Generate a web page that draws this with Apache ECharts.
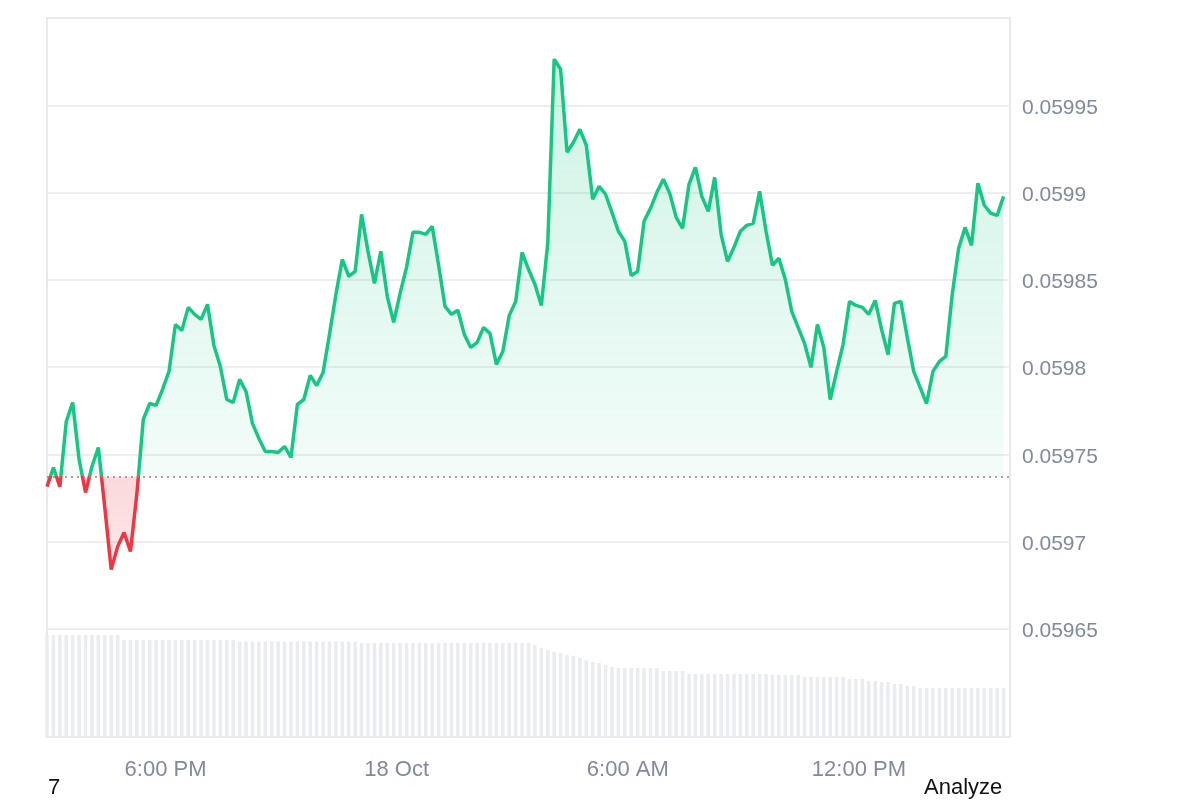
<!DOCTYPE html>
<html>
<head>
<meta charset="utf-8">
<script src="https://cdn.jsdelivr.net/npm/echarts@6/dist/echarts.min.js"></script>
<style>
  html, body { margin: 0; padding: 0; background: #fff; }
  #chart { width: 1200px; height: 800px; }
</style>
</head>
<body>
<div id="chart"></div>
<script>
// price every 10 minutes, 17 Oct 15:00 -> 18 Oct 15:50 (last slot empty)
const priceValues = [
  0.0597315, 0.0597424, 0.0597315, 0.0597688, 0.0597797, 0.0597470, 0.0597281, 0.0597430, 0.0597539, 0.0597195,
  0.0596839, 0.0596971, 0.0597052, 0.0596943, 0.0597275, 0.0597700, 0.0597791, 0.0597780, 0.0597872, 0.0597975,
  0.0598244, 0.0598210, 0.0598342, 0.0598302, 0.0598273, 0.0598359, 0.0598124, 0.0598003, 0.0597814, 0.0597797,
  0.0597929, 0.0597860, 0.0597677, 0.0597591, 0.0597516, 0.0597516, 0.0597510, 0.0597545, 0.0597482, 0.0597786,
  0.0597814, 0.0597952, 0.0597894, 0.0597969, 0.0598187, 0.0598416, 0.0598617, 0.0598519, 0.0598548, 0.0598875,
  0.0598663, 0.0598479, 0.0598663, 0.0598405, 0.0598256, 0.0598422, 0.0598571, 0.0598772, 0.0598772, 0.0598760,
  0.0598806, 0.0598583, 0.0598347, 0.0598302, 0.0598325, 0.0598187, 0.0598112, 0.0598141, 0.0598227, 0.0598193,
  0.0598015, 0.0598089, 0.0598296, 0.0598376, 0.0598657, 0.0598560, 0.0598474, 0.0598353, 0.0598709, 0.0599764,
  0.0599706, 0.0599231, 0.0599288, 0.0599362, 0.0599271, 0.0598961, 0.0599036, 0.0598990, 0.0598886, 0.0598778,
  0.0598720, 0.0598525, 0.0598548, 0.0598835, 0.0598909, 0.0599001, 0.0599076, 0.0598995, 0.0598858, 0.0598795,
  0.0599047, 0.0599144, 0.0598978, 0.0598892, 0.0599087, 0.0598760, 0.0598605, 0.0598686, 0.0598778, 0.0598812,
  0.0598823, 0.0599007, 0.0598778, 0.0598583, 0.0598623, 0.0598502, 0.0598319, 0.0598227, 0.0598135, 0.0597998,
  0.0598244, 0.0598112, 0.0597814, 0.0597975, 0.0598130, 0.0598376, 0.0598353, 0.0598342, 0.0598302, 0.0598382,
  0.0598216, 0.0598072, 0.0598365, 0.0598376, 0.0598170, 0.0597975, 0.0597883, 0.0597791, 0.0597975, 0.0598032,
  0.0598061, 0.0598416, 0.0598680, 0.0598800, 0.0598697, 0.0599053, 0.0598927, 0.0598881, 0.0598869, 0.0598978,
  null
];

// 24h volume, relative units
const volumeValues = [
  10.2, 10.2, 10.2, 10.2, 10.2, 10.2, 10.2, 10.2, 10.2, 10.2, 10.2, 10.2,
  9.7, 9.7, 9.7, 9.7, 9.7, 9.7, 9.7, 9.7, 9.7, 9.7, 9.7, 9.7, 9.7, 9.7, 9.7, 9.7, 9.7, 9.7,
  9.55, 9.55, 9.55, 9.55, 9.55, 9.55, 9.55, 9.55, 9.55, 9.55, 9.55, 9.55, 9.55, 9.55, 9.55, 9.55, 9.55, 9.55, 9.55,
  9.4, 9.4, 9.4, 9.4, 9.4, 9.4, 9.4, 9.4, 9.4, 9.4, 9.4, 9.4, 9.4, 9.4, 9.4, 9.4, 9.4, 9.4, 9.4, 9.4, 9.4, 9.4, 9.4, 9.4, 9.4, 9.4, 9.4,
  9.2, 8.9, 8.7, 8.5, 8.4, 8.2, 8.1, 7.9, 7.7, 7.5, 7.4, 7.2, 7.0,
  6.9, 6.9, 6.9, 6.9, 6.9, 6.9, 6.9,
  6.6, 6.6, 6.6, 6.6,
  6.3, 6.3, 6.3, 6.3, 6.3, 6.3, 6.3, 6.3, 6.3, 6.3, 6.3, 6.3, 6.3,
  6.2, 6.2, 6.2, 6.2, 6.2,
  6.0, 6.0, 6.0, 6.0, 6.0, 6.0, 6.0,
  5.8, 5.8, 5.8, 5.6, 5.6, 5.5, 5.5, 5.3, 5.3, 5.1, 5.1,
  4.9, 4.9, 4.9, 4.9, 4.9, 4.9, 4.9, 4.9, 4.9, 4.9, 4.9, 4.9, 4.9, 4.9,
  null
];

const baseline = 0.0597373;   // price 24h ago (dotted line)
const yTicks = [0.05965, 0.0597, 0.05975, 0.0598, 0.05985, 0.0599, 0.05995];
const tickTimes = ['18:00', '00:00', '06:00', '12:00'];
const tickLabels = ['6:00 PM', '18 Oct', '6:00 AM', '12:00 PM'];

// time slots
const categories = [];
for (let i = 0; i < priceValues.length; i++) {
  const m = 15 * 60 + i * 10;
  const day = m >= 1440 ? 18 : 17;
  const hh = String(Math.floor((m % 1440) / 60)).padStart(2, '0');
  const mm = String(m % 60).padStart(2, '0');
  categories.push(day + ' Oct ' + hh + ':' + mm);
}

const GREEN = '#16c784';
const RED = '#ea3943';
const H = 800;

const vals = priceValues.filter(v => v != null);
const hi = Math.max(...vals), lo = Math.min(...vals);

const chart = echarts.init(document.getElementById('chart'), null, { renderer: 'canvas' });

chart.setOption({
  animation: false,
  textStyle: { fontFamily: 'Liberation Sans, Arial, sans-serif' },
  grid: {
    left: 47, right: 190, top: 18, bottom: 63,
    show: true, borderColor: '#e9e9e9', borderWidth: 2, backgroundColor: 'transparent'
  },
  xAxis: {
    type: 'category',
    data: categories,
    boundaryGap: false,
    axisLine: { show: false },
    axisTick: { show: false },
    splitLine: { show: false },
    axisLabel: {
      interval: (idx, val) => tickTimes.includes(val.slice(-5)),
      formatter: val => tickLabels[tickTimes.indexOf(val.slice(-5))],
      color: '#808a9d',
      fontSize: 22,
      margin: 22,
      padding: [0, 0, 0, 6]
    }
  },
  yAxis: [{
    type: 'value',
    position: 'right',
    min: 0.059588,
    max: 0.0600,
    axisLine: { show: false },
    axisTick: { show: false, customValues: yTicks },
    splitLine: { lineStyle: { color: '#eeeeee', width: 2 } },
    axisLabel: {
      customValues: yTicks,
      color: '#808a9d',
      fontSize: 21,
      margin: 12,
      verticalAlign: 'top',
      lineHeight: 5,
      formatter: v => String(parseFloat(v.toFixed(5)))
    }
  }, {
    type: 'value',
    show: false,
    min: 0,
    max: 71.9,
    splitLine: { show: false }
  }],
  series: [{
    name: 'Volume',
    type: 'bar',
    yAxisIndex: 1,
    data: volumeValues,
    barCategoryGap: '45%',
    itemStyle: { color: '#e9ecf1' },
    silent: true
  }, {
    name: 'Price',
    type: 'line',
    data: priceValues,
    showSymbol: false,
    symbol: 'none',
    lineStyle: { width: 3.5, color: GREEN },
    areaStyle: { origin: baseline, color: 'rgba(22,199,132,0.12)' },
    markLine: {
      silent: true,
      symbol: 'none',
      label: { show: false },
      lineStyle: { color: '#8a8a8a', type: [2, 4], width: 1.5 },
      data: [[
        { coord: [categories[0], baseline] },
        { coord: [categories[categories.length - 1], baseline] }
      ]]
    }
  }],
  graphic: [
    { type: 'text', left: 48, top: 777, style: { text: '7', fontSize: 22, fill: '#111', fontFamily: 'Liberation Sans' } },
    { type: 'text', left: 924, top: 777, style: { text: 'Analyze', fontSize: 22, fill: '#111', fontFamily: 'Liberation Sans' } }
  ]
});

// split colours exactly at the baseline pixel row
const yBase = chart.convertToPixel({ yAxisIndex: 0 }, baseline) / H;
const yHi = chart.convertToPixel({ yAxisIndex: 0 }, hi) / H;
const yLo = chart.convertToPixel({ yAxisIndex: 0 }, lo) / H;
const G = echarts.graphic.LinearGradient;

chart.setOption({
  series: [{}, {
    lineStyle: {
      color: new G(0, 0, 0, H, [
        { offset: 0, color: GREEN },
        { offset: yBase, color: GREEN },
        { offset: yBase, color: RED },
        { offset: 1, color: RED }
      ], true)
    },
    areaStyle: {
      color: new G(0, 0, 0, H, [
        { offset: 0, color: 'rgba(22,199,132,0.3)' },
        { offset: yHi, color: 'rgba(22,199,132,0.3)' },
        { offset: yBase, color: 'rgba(22,199,132,0.07)' },
        { offset: yBase, color: 'rgba(234,57,67,0.27)' },
        { offset: yLo, color: 'rgba(234,57,67,0.17)' },
        { offset: 1, color: 'rgba(234,57,67,0.17)' }
      ], true)
    }
  }]
});
</script>
</body>
</html>
